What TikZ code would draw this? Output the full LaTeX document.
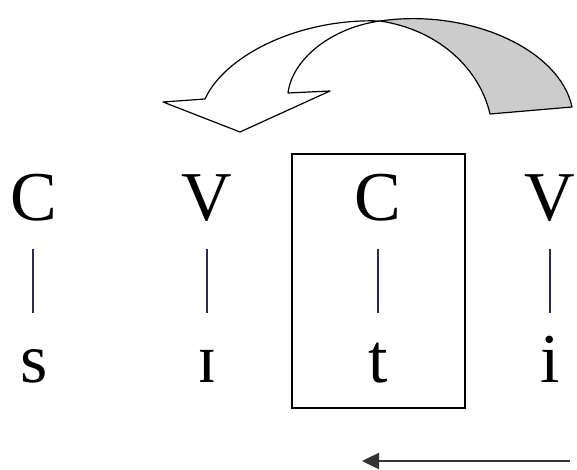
\documentclass[tikz,border=0pt]{standalone}
\usepackage{fontspec}
\setmainfont{Liberation Serif}
\usetikzlibrary{arrows.meta}
\definecolor{barcol}{HTML}{2A2A55}
\tikzset{
  letter/.style={inner sep=0pt, anchor=base, font=\fontsize{70}{80}\selectfont},
  bar/.style={draw=barcol, line width=1.5pt},
  ribbon/.style={draw=black, line width=1.2pt, line join=round},
}
\begin{document}
\begin{tikzpicture}[x=1pt,y=-1pt]
\useasboundingbox (0,0) rectangle (577,470);
% curved ribbon arrow
\path[ribbon, fill=black!20] (380,21) .. controls (470,8) and (560,50) .. (572,107)
  -- (490,114) .. controls (480,70) and (440,30) .. (380,21) -- cycle;
\path[ribbon, fill=white] (380,21) .. controls (300,18) and (225,55) .. (205,99)
  -- (163,102) -- (240,132) -- (330,91) -- (288,93)
  .. controls (292,60) and (330,28) .. (380,21) -- cycle;
% box
\node[draw, line width=1.6pt, minimum width=173pt, minimum height=254pt, inner sep=0pt] (box) at (378.5,281) {};
% letters
\node[letter] (c1) at (34,220) {C};
\node[letter] (v1) at (207,220) {V};
\node[letter] (c2) at (378,220) {C};
\node[letter] (v2) at (550,220) {V};
\node[letter] (s) at (34,382) {s};
\node[letter] (ih) at (207,382) {ɪ};
\node[letter] (t) at (378,382) {t};
\node[letter] (i) at (550,382) {i};
% bars
\draw[bar] (c1.base) ++(-1,29) -- ++(0,64);
\draw[bar] (v1.base) ++(0,29) -- ++(0,64);
\draw[bar] (c2.base) ++(0,29) -- ++(0,64);
\draw[bar] (v2.base) ++(0,29) -- ++(0,64);
% bottom arrow
\coordinate (a1) at (570,461);
\coordinate (a2) at (362,461);
\draw[draw=black!80, line width=2.5pt, -{Triangle[length=17pt,width=16pt]}] (a1) -- (a2);
\end{tikzpicture}
\end{document}
